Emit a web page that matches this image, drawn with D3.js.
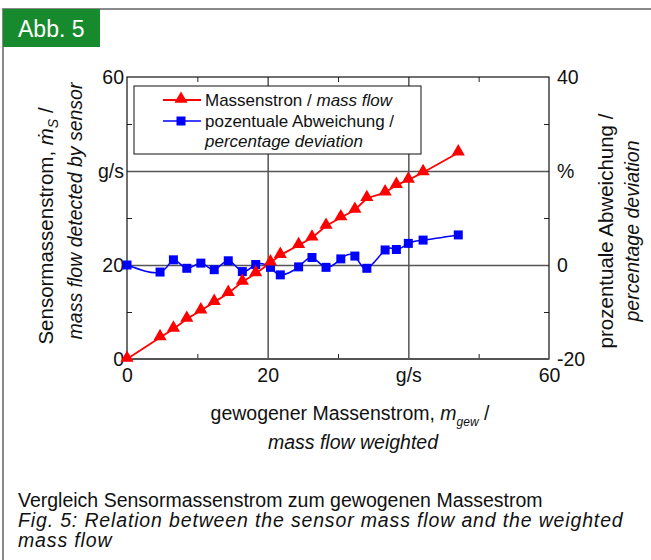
<!DOCTYPE html>
<html lang="de">
<head>
<meta charset="UTF-8">
<title>Abb. 5</title>
<script src="https://cdn.jsdelivr.net/npm/d3@7"></script>
<style>
  body { margin: 0; background: #fff; }
  text { font-family: "Liberation Sans", Arial, sans-serif; fill: #111; }
</style>
</head>
<body>
<svg width="651" height="560"></svg>
<script>
var massWeighed = [0, 4.7, 6.6, 8.5, 10.5, 12.4, 14.4, 16.4, 18.3, 20.4, 21.8, 24.4, 26.3, 28.3, 30.4, 32.4, 34.1, 36.7, 38.3, 40.0, 42.1, 47.1];
var massSensor  = [0, 4.6, 6.4, 8.5, 10.3, 12.1, 14.0, 16.4, 18.2, 20.5, 22.1, 24.2, 25.8, 28.3, 30.1, 31.7, 34.2, 35.4, 37.0, 38.1, 39.7, 43.9];
var deviation   = [0, -1.5, 1.1, -0.7, 0.4, -1.0, 0.9, -1.4, 0.1, -0.5, -2.1, -0.4, 1.6, -0.5, 1.3, 1.9, -0.7, 3.2, 3.3, 4.6, 5.3, 6.4];

var xTicks = [0, 20, 40, 60];
var xTickLabels = ['0', '20', 'g/s', '60'];
var yLeftTicks = [0, 20, 40, 60];
var yLeftLabels = ['0', '20', 'g/s', '60'];
var yRightTicks = [-20, 0, 20, 40];
var yRightLabels = ['-20', '0', '%', '40'];
var minorTicks = [10, 30, 50];
var minorRight = [-10, 10, 30];

var svg = d3.select('svg');

// Rahmen + Badge
svg.append('path').attr('d', 'M3,560 V9 H651').attr('fill', 'none').attr('stroke', '#8a8a8a').attr('stroke-width', 2);
svg.append('rect').attr('x', 3).attr('y', 9).attr('width', 97).attr('height', 38).attr('fill', '#178a2e');
svg.append('text').attr('x', 18).attr('y', 37).text('Abb. 5')
  .style('fill', '#fff').style('font-size', '23px');

var pL = 127, pR = 549, pT = 77, pB = 359;
var x = d3.scaleLinear().domain([0, 60]).range([pL, pR]);
var yL = d3.scaleLinear().domain([0, 60]).range([pB, pT]);
var yR = d3.scaleLinear().domain([-20, 40]).range([pB, pT]);

var g = svg.append('g');

// Gitternetz
g.append('g').attr('transform', 'translate(0,' + pB + ')')
  .call(d3.axisBottom(x).tickValues([20, 40]).tickSize(-(pB - pT)).tickFormat(''))
  .call(function (s) { s.select('.domain').remove(); s.selectAll('line').attr('stroke', '#555').attr('stroke-width', 1.5); });
g.append('g').attr('transform', 'translate(' + pL + ',0)')
  .call(d3.axisLeft(yL).tickValues([20, 40]).tickSize(-(pR - pL)).tickFormat(''))
  .call(function (s) { s.select('.domain').remove(); s.selectAll('line').attr('stroke', '#555').attr('stroke-width', 1.5); });

// kleine Striche nach innen
function minor(axis, tr) {
  g.append('g').attr('transform', tr).call(axis)
    .call(function (s) { s.select('.domain').remove(); s.selectAll('line').attr('stroke', '#222'); });
}
minor(d3.axisBottom(x).tickValues(minorTicks).tickSize(-5).tickFormat(''), 'translate(0,' + pB + ')');
minor(d3.axisTop(x).tickValues(minorTicks).tickSize(-5).tickFormat(''), 'translate(0,' + pT + ')');
minor(d3.axisLeft(yL).tickValues(minorTicks).tickSize(-5).tickFormat(''), 'translate(' + pL + ',0)');
minor(d3.axisRight(yR).tickValues(minorRight).tickSize(-5).tickFormat(''), 'translate(' + pR + ',0)');

// Rahmen Diagramm
g.append('rect').attr('x', pL).attr('y', pT).attr('width', pR - pL).attr('height', pB - pT)
  .attr('fill', 'none').attr('stroke', '#111').attr('stroke-width', 1.2);
g.append('line').attr('x1', pL).attr('x2', pR).attr('y1', pB).attr('y2', pB)
  .attr('stroke', '#555').attr('stroke-width', 2);

// Beschriftungen der Achsen
function labels(axis, tr) {
  g.append('g').attr('transform', tr).call(axis)
    .call(function (s) {
      s.select('.domain').remove();
      s.selectAll('line').remove();
      s.selectAll('text').style('font-size', '19.5px').attr('fill', '#111');
    });
}
labels(d3.axisBottom(x).tickValues(xTicks).tickSize(0).tickPadding(9).tickFormat(function (d, i) { return xTickLabels[i]; }),
  'translate(0,' + pB + ')');
labels(d3.axisLeft(yL).tickValues(yLeftTicks).tickSize(0).tickPadding(3).tickFormat(function (d, i) { return yLeftLabels[i]; }),
  'translate(' + pL + ',0)');
labels(d3.axisRight(yR).tickValues(yRightTicks).tickSize(0).tickPadding(8).tickFormat(function (d, i) { return yRightLabels[i]; }),
  'translate(' + pR + ',0)');

// Linien
var pts = massWeighed.map(function (d, i) { return { x: d, m: massSensor[i], p: deviation[i] }; });

var lineMass = d3.line().x(function (d) { return x(d.x); }).y(function (d) { return yL(d.m); });
var lineDev = d3.line().x(function (d) { return x(d.x); }).y(function (d) { return yR(d.p); }).curve(d3.curveNatural);

g.append('path').attr('d', lineDev(pts)).attr('fill', 'none').attr('stroke', '#0000ff').attr('stroke-width', 1.5);
g.append('path').attr('d', lineMass(pts)).attr('fill', 'none').attr('stroke', '#ff0000').attr('stroke-width', 1.8);

var tri = d3.symbol().type(d3.symbolTriangle).size(75);
var sq = d3.symbol().type(d3.symbolSquare).size(81);

g.selectAll('.sq').data(pts).enter().append('path')
  .attr('d', sq).attr('fill', '#0000ff')
  .attr('transform', function (d) { return 'translate(' + x(d.x) + ',' + yR(d.p) + ')'; });
g.selectAll('.tri').data(pts).enter().append('path')
  .attr('d', tri).attr('fill', '#ff0000')
  .attr('transform', function (d) { return 'translate(' + x(d.x) + ',' + (yL(d.m) - 1) + ')'; });

// Legende
var lg = g.append('g');
lg.append('rect').attr('x', 134).attr('y', 86).attr('width', 287).attr('height', 68)
  .attr('fill', '#fff').attr('stroke', '#111').attr('stroke-width', 1);
lg.append('line').attr('x1', 163).attr('x2', 201).attr('y1', 100).attr('y2', 100).attr('stroke', '#ff0000').attr('stroke-width', 1.8);
lg.append('path').attr('d', tri).attr('fill', '#ff0000').attr('transform', 'translate(181,99)');
lg.append('line').attr('x1', 163).attr('x2', 201).attr('y1', 121).attr('y2', 121).attr('stroke', '#0000ff').attr('stroke-width', 1.5);
lg.append('path').attr('d', sq).attr('fill', '#0000ff').attr('transform', 'translate(181,121)');

var t1 = lg.append('text').attr('x', 205).attr('y', 100).attr('dy', '0.35em').style('font-size', '17px');
t1.append('tspan').text('Massenstron / ');
t1.append('tspan').style('font-style', 'italic').text('mass flow');
lg.append('text').attr('x', 205).attr('y', 121).attr('dy', '0.35em').style('font-size', '17px').text('pozentuale Abweichung /');
lg.append('text').attr('x', 205).attr('y', 141).attr('dy', '0.35em').style('font-size', '17px').style('font-style', 'italic').text('percentage deviation');

// Achsentitel
var ty1 = svg.append('text').attr('transform', 'translate(46,226) rotate(-90)').attr('text-anchor', 'middle')
  .attr('dy', '0.35em').style('font-size', '20.5px');
ty1.append('tspan').text('Sensormassenstrom, ');
ty1.append('tspan').style('font-style', 'italic').text('\u1E41');
ty1.append('tspan').style('font-style', 'italic').style('font-size', '14px').attr('dy', 5).text('S');
ty1.append('tspan').attr('dy', -5).text(' /');
svg.append('text').attr('transform', 'translate(75,211) rotate(-90)').attr('text-anchor', 'middle')
  .attr('dy', '0.35em').style('font-size', '19.5px').style('font-style', 'italic').text('mass flow detected by sensor');

svg.append('text').attr('transform', 'translate(606,231) rotate(-90)').attr('text-anchor', 'middle')
  .attr('dy', '0.35em').style('font-size', '20.5px').text('prozentuale Abweichung /');
svg.append('text').attr('transform', 'translate(632,231) rotate(-90)').attr('text-anchor', 'middle')
  .attr('dy', '0.35em').style('font-size', '19.5px').style('font-style', 'italic').text('percentage deviation');

var tx = svg.append('text').attr('x', 350).attr('y', 413).attr('dy', '0.35em').attr('text-anchor', 'middle').style('font-size', '19.5px');
tx.append('tspan').text('gewogener Massenstrom, ');
tx.append('tspan').style('font-style', 'italic').text('m');
tx.append('tspan').style('font-style', 'italic').style('font-size', '12px').attr('dy', 6).text('gew');
tx.append('tspan').attr('dy', -6).text(' /');
svg.append('text').attr('x', 353).attr('y', 442).attr('dy', '0.35em').attr('text-anchor', 'middle')
  .style('font-size', '19.5px').style('font-style', 'italic').text('mass flow weighted');

// Bildunterschrift
var cap = ['Vergleich Sensormassenstrom zum gewogenen Massestrom',
  'Fig. 5: Relation between the sensor mass flow and the weighted',
  'mass flow'];
svg.selectAll('.cap').data(cap).enter().append('text')
  .attr('x', 18).attr('y', function (d, i) { return 507 + i * 20; })
  .style('font-size', '19.5px')
  .style('letter-spacing', function (d, i) { return i ? '0.85px' : '0px'; })
  .style('font-style', function (d, i) { return i ? 'italic' : 'normal'; })
  .text(function (d) { return d; });
</script>
</body>
</html>
